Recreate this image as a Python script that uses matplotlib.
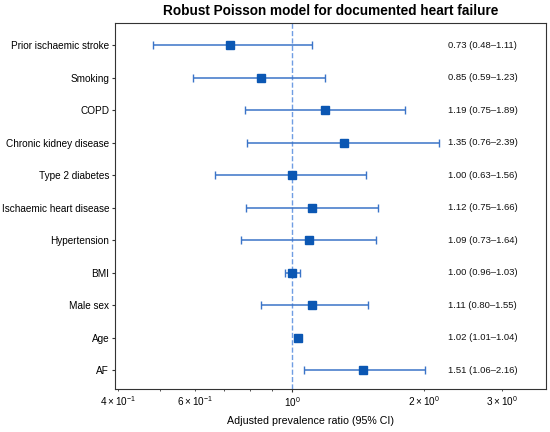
import matplotlib
matplotlib.use('Agg')
import matplotlib.pyplot as plt
import numpy as np

plt.rcParams['font.family'] = ['Liberation Sans', 'DejaVu Sans']

# variables, top to bottom
variables = ['Prior ischaemic stroke', 'Smoking', 'COPD', 'Chronic kidney disease',
             'Type 2 diabetes', 'Ischaemic heart disease', 'Hypertension', 'BMI',
             'Male sex', 'Age', 'AF']

# values as drawn in the figure
pr = [0.72, 0.85, 1.19, 1.31, 1.00, 1.11, 1.09, 1.00, 1.11, 1.03, 1.45]
ci_low = [0.48, 0.595, 0.78, 0.79, 0.667, 0.782, 0.764, 0.962, 0.848, 1.02, 1.063]
ci_high = [1.11, 1.19, 1.81, 2.16, 1.476, 1.565, 1.551, 1.041, 1.489, 1.045, 2.01]

# text printed at the right
labels = ['0.73 (0.48\u20131.11)', '0.85 (0.59\u20131.23)', '1.19 (0.75\u20131.89)',
          '1.35 (0.76\u20132.39)', '1.00 (0.63\u20131.56)', '1.12 (0.75\u20131.66)',
          '1.09 (0.73\u20131.64)', '1.00 (0.96\u20131.03)', '1.11 (0.80\u20131.55)',
          '1.02 (1.01\u20131.04)', '1.51 (1.06\u20132.16)']

pr = np.array(pr)
ci_low = np.array(ci_low)
ci_high = np.array(ci_high)
y = np.arange(len(variables))

fig = plt.figure(figsize=(5.5, 4.32), dpi=100)
ax = fig.add_axes([0.209, 0.0995, 0.783, 0.8465])

ax.axvline(1, color='#6f9de3', linestyle='--', linewidth=1.0, zorder=1)
ax.errorbar(pr, y, xerr=[pr - ci_low, ci_high - pr], fmt='s', color='#0b57b3',
            ecolor='#3a74c8', elinewidth=1.1, capsize=3, capthick=1.0,
            markersize=5.5, zorder=3)

for yi, lab in zip(y, labels):
    ax.text(2.26, yi, lab, ha='left', va='center', fontsize=6.8, color='#111111')

ax.set_xscale('log')
ax.set_xlim(0.394, 3.78)
ax.set_ylim(10.585, -0.667)
ax.set_yticks(y)
ax.set_yticklabels(variables, fontsize=7.2)
ax.tick_params(axis='y', length=2.2, pad=2.0, color='#333333')
ax.tick_params(axis='x', which='major', length=2.2, pad=2.0, labelsize=7.2, color='#333333')
ax.tick_params(axis='x', which='minor', length=1.4, pad=2.0, labelsize=7.2, color='#333333')
ax.set_xlabel('Adjusted prevalence ratio (95% CI)', fontsize=7.7, x=0.455, labelpad=5)
ax.set_title('Robust Poisson model for documented heart failure', fontsize=9.8,
             fontweight='bold', pad=6)
for s in ax.spines.values():
    s.set_color('#333333')

fig.savefig('out.png', dpi=100)
